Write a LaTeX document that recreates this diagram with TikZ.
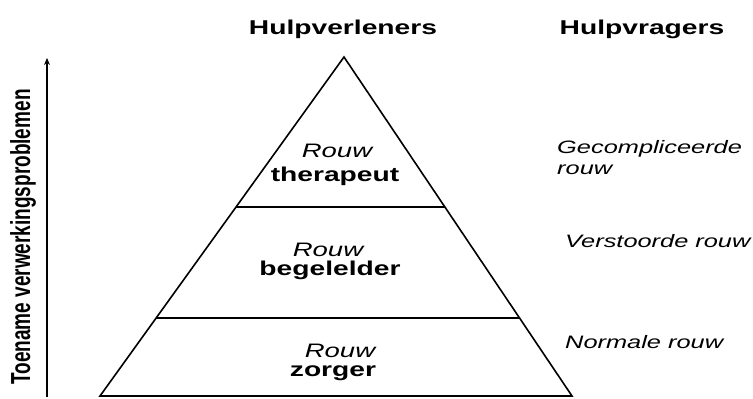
\documentclass[tikz,border=0pt]{standalone}
\usepackage{fontspec}
\setmainfont{Liberation Sans}
\usepackage{graphicx}
\usetikzlibrary{calc,arrows.meta}
\newcommand{\hstr}[1]{\scalebox{1.41}[1]{#1}}
\newcommand{\vstr}[1]{\scalebox{1}[1.45]{#1}}
\begin{document}
\begin{tikzpicture}[x=1pt,y=-1pt,
  head/.style={inner sep=0pt,font=\fontsize{20}{22}\selectfont\bfseries},
  rouwlbl/.style={inner sep=0pt,font=\fontsize{19.5}{22}\selectfont\itshape},
  rolelbl/.style={inner sep=0pt,font=\fontsize{20}{22}\selectfont\bfseries},
  sidelbl/.style={inner sep=0pt,anchor=west,font=\fontsize{18}{20}\selectfont\itshape},
  pyr/.style={line width=1.6pt,line join=miter},
  divider/.style={line width=1.5pt},
  axis/.style={line width=1.2pt,-{Stealth[length=7pt,width=6pt]}}]
\useasboundingbox (0,0) rectangle (753,399);
% headers
\node[head] (hv) at (343,29) {\hstr{Hulpverleners}};
\node[head] (hq) at (642,29) {\hstr{Hulpvragers}};
% pyramid
\coordinate (apex) at (344,57);
\coordinate (bl) at (100,396);
\coordinate (br) at (572,396);
\coordinate (l1) at ($(apex)!0.4425!(bl)$);
\coordinate (r1) at ($(apex)!0.4425!(br)$);
\coordinate (l2) at ($(apex)!0.77!(bl)$);
\coordinate (r2) at ($(apex)!0.77!(br)$);
\draw[pyr] (apex) -- (bl) -- (br) -- cycle;
\draw[divider] (l1) -- (r1);
\draw[divider] (l2) -- (r2);
% labels inside
\node[rouwlbl] (r1t) at (337,151) {\hstr{Rouw}};
\node[rolelbl] (t1) at (335,176) {\hstr{therapeut}};
\node[rouwlbl] (r2t) at (328,250) {\hstr{Rouw}};
\node[rolelbl] (t2) at (330,270) {\hstr{begelelder}};
\node[rouwlbl] (r3t) at (340,351) {\hstr{Rouw}};
\node[rolelbl] (t3) at (333,373) {\hstr{zorger}};
% right labels
\node[sidelbl] (s1) at (557,149) {\hstr{Gecompliceerde}};
\node[sidelbl] (s1b) at (557,169.5) {\hstr{rouw}};
\node[sidelbl] (s2) at (565,241) {\hstr{Verstoorde rouw}};
\node[sidelbl] (s3) at (565,342) {\hstr{Normale rouw}};
% axis
\coordinate (a0) at (47,397);
\coordinate (a1) at (47,58);
\draw[axis] (a0) -- (a1);
\node[inner sep=0pt,rotate=90,font=\fontsize{19}{21}\selectfont\bfseries] (ax) at (23,237) {\vstr{Toename verwerkingsproblemen}};
\end{tikzpicture}
\end{document}
